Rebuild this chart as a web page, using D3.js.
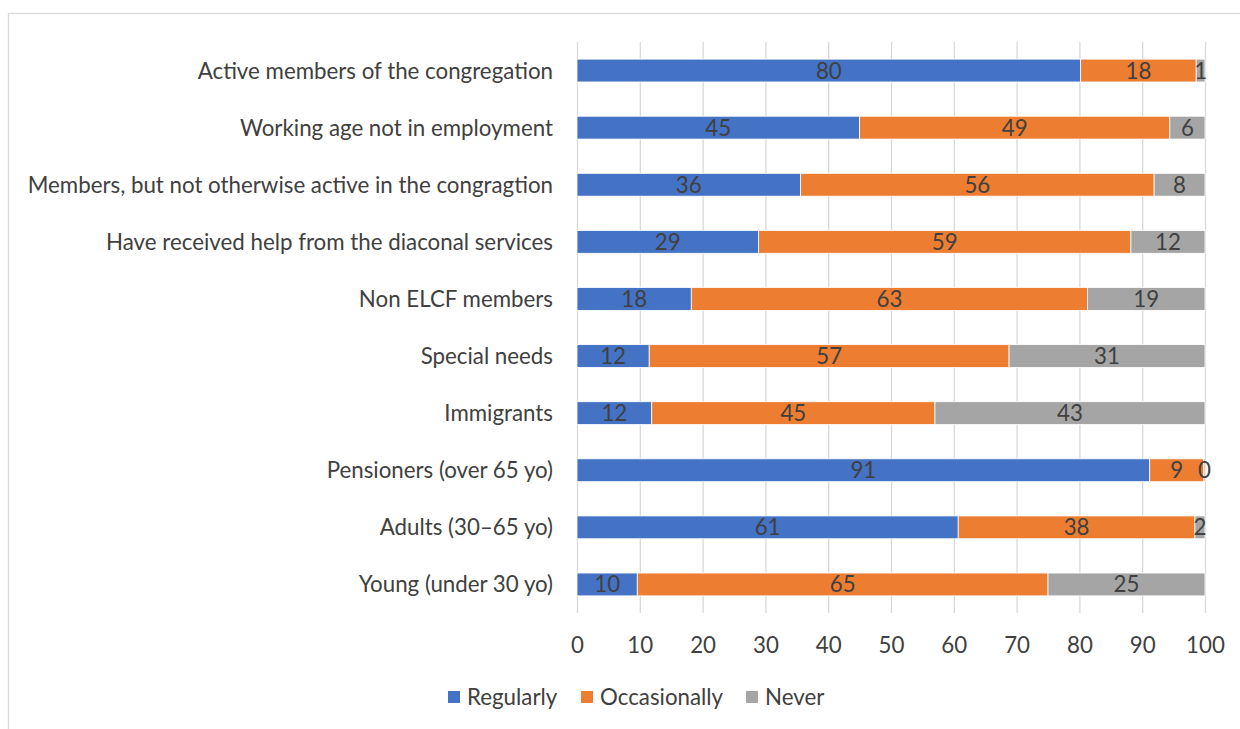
<!DOCTYPE html>
<html><head><meta charset="utf-8">
<script src="https://cdn.jsdelivr.net/npm/d3@7"></script>
<style>body{margin:0;background:#fff;}svg{display:block;}</style>
</head><body>
<svg id="chart" width="1240" height="729"></svg>
<script>
const categories = [
  "Active members of the congregation",
  "Working age not in employment",
  "Members, but not otherwise active in the congragtion",
  "Have received help from the diaconal services",
  "Non ELCF members",
  "Special needs",
  "Immigrants",
  "Pensioners (over 65 yo)",
  "Adults (30–65 yo)",
  "Young (under 30 yo)"
];
const regularly    = [80.2, 45.0, 35.6, 28.9, 18.2, 11.5, 11.9, 91.2, 60.7, 9.6];
const occasionally = [18.4, 49.4, 56.3, 59.3, 63.1, 57.3, 45.1, 8.6, 37.7, 65.4];
const never        = [1.4, 5.6, 8.1, 11.8, 18.7, 31.2, 43.0, 0.2, 1.6, 25.0];
const seriesNames = ["Regularly", "Occasionally", "Never"];
const seriesColors = ["#4472c4", "#ed7d31", "#a5a5a5"];
const xTicks = [0,10,20,30,40,50,60,70,80,90,100];

(function(){
const svg = d3.select("#chart");
const font = "Lato, sans-serif";
const fs = 22.3;
const textColor = "#404040";

svg.append("rect").attr("x", 8.5).attr("y", 13.5).attr("width", 1300).attr("height", 800)
  .attr("fill", "none").attr("stroke", "#d9d9d9").attr("stroke-width", 1.3);

const pLeft = 577, pRight = 1205, pTop = 42, pBottom = 613;
const x = d3.scaleLinear().domain([0, 100]).range([pLeft, pRight]);
const y = d3.scaleBand().domain(categories).range([pTop, pBottom]).paddingInner(0.6).paddingOuter(0.3);

svg.append("g").selectAll("line").data(xTicks).join("line")
  .attr("x1", d => x(d) + 0.5).attr("x2", d => x(d) + 0.5)
  .attr("y1", pTop).attr("y2", pBottom)
  .attr("stroke", "#d9d9d9").attr("stroke-width", 1.3);

const stack = [];
categories.forEach((c, i) => {
  let acc = 0;
  [regularly[i], occasionally[i], never[i]].forEach((v, j) => {
    stack.push({cat: c, s: j, x0: acc, x1: acc + v, v});
    acc += v;
  });
});

svg.append("g").selectAll("rect").data(stack).join("rect")
  .attr("x", d => x(d.x0)).attr("width", d => x(d.x1) - x(d.x0))
  .attr("y", d => y(d.cat)).attr("height", y.bandwidth())
  .attr("fill", d => seriesColors[d.s])
  .attr("stroke", "#fff").attr("stroke-width", 0.8);

svg.append("g").selectAll("text").data(stack).join("text")
  .attr("x", d => (x(d.x0) + x(d.x1)) / 2)
  .attr("y", d => y(d.cat) + y.bandwidth() / 2)
  .attr("dy", "0.36em").attr("text-anchor", "middle")
  .attr("font-family", font).attr("font-size", fs).attr("fill", textColor)
  .text(d => Math.round(d.v));

svg.append("g").selectAll("text").data(categories).join("text")
  .attr("x", 553).attr("y", d => y(d) + y.bandwidth() / 2)
  .attr("dy", "0.36em").attr("text-anchor", "end")
  .attr("font-family", font).attr("font-size", fs).attr("fill", textColor)
  .text(d => d);

const xAxis = d3.axisBottom(x).tickValues(xTicks).tickSize(0).tickPadding(0);
const gx = svg.append("g").attr("transform", `translate(0, ${pBottom + 24})`).call(xAxis);
gx.select(".domain").remove();
gx.selectAll("text").attr("font-family", font).attr("font-size", fs).attr("fill", textColor)
  .attr("dy", "0.36em").attr("y", 8);

const legendX = [448, 581, 746];
const lg = svg.append("g").selectAll("g").data(seriesNames).join("g")
  .attr("transform", (d, i) => `translate(${legendX[i]}, 697)`);
lg.append("rect").attr("x", 0).attr("y", -6).attr("width", 12).attr("height", 12)
  .attr("fill", (d, i) => seriesColors[i]);
lg.append("text").attr("x", 19).attr("y", 0).attr("dy", "0.36em")
  .attr("font-family", font).attr("font-size", fs).attr("fill", textColor).text(d => d);
})();
</script>
</body></html>
